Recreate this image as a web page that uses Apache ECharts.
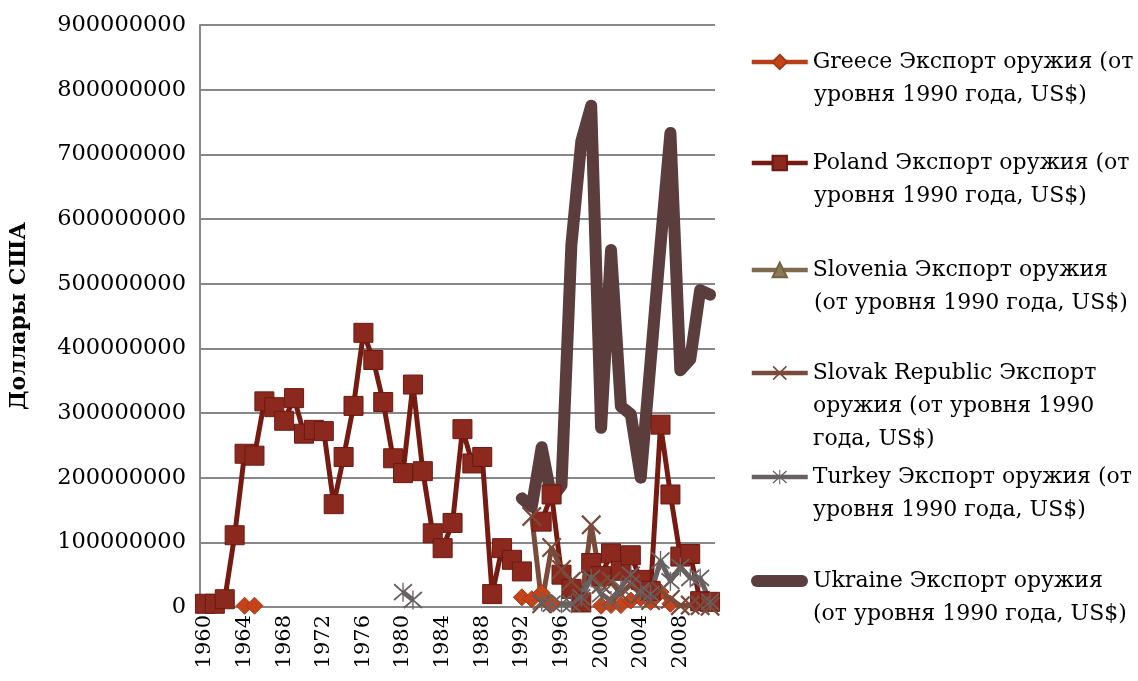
<!DOCTYPE html>
<html>
<head>
<meta charset="utf-8">
<script src="https://cdn.jsdelivr.net/npm/echarts@6/dist/echarts.min.js"></script>
<style>
  html, body { margin: 0; padding: 0; background: #fff; }
  #chart { width: 1138px; height: 681px; }
</style>
</head>
<body>
<div id="chart"></div>
<script>
// годы
var years = [
  1960, 1961, 1962, 1963, 1964, 1965, 1966, 1967, 1968, 1969,
  1970, 1971, 1972, 1973, 1974, 1975, 1976, 1977, 1978, 1979,
  1980, 1981, 1982, 1983, 1984, 1985, 1986, 1987, 1988, 1989,
  1990, 1991, 1992, 1993, 1994, 1995, 1996, 1997, 1998, 1999,
  2000, 2001, 2002, 2003, 2004, 2005, 2006, 2007, 2008, 2009,
  2010, 2011
];

// значения в млн US$
var greece = [
  null, null, null, null, 2, 2, null, null, null, null,
  null, null, null, null, null, null, null, null, null, null,
  null, null, null, null, null, null, null, null, null, null,
  null, null, 15, 12, 22, 6, null, null, null, null,
  2, 3, 3, 10, 14, 8, 23, 5, null, null,
  null, null
];
var poland = [
  5, 5, 12, 111, 237, 234, 318, 309, 288, 323,
  268, 274, 272, 159, 232, 311, 424, 382, 317, 230,
  207, 344, 210, 114, 91, 130, 275, 222, 232, 20,
  91, 73, 55, null, 132, 174, 50, 28, 7, 68,
  48, 83, 56, 80, 42, 25, 282, 174, 78, 82,
  9, 8
];
// на графике точек Словении не видно
var slovenia = [
  null, null, null, null, null, null, null, null, null, null,
  null, null, null, null, null, null, null, null, null, null,
  null, null, null, null, null, null, null, null, null, null,
  null, null, null, null, null, null, null, null, null, null,
  null, null, null, null, null, null, null, null, null, null,
  null, null
];
var slovak = [
  null, null, null, null, null, null, null, null, null, null,
  null, null, null, null, null, null, null, null, null, null,
  null, null, null, null, null, null, null, null, null, null,
  null, null, null, 140, 5, 92, 58, 40, 8, 127,
  35, 40, 20, 35, 20, 10, 25, 12, 2, 3,
  2, 1
];
var turkey = [
  null, null, null, null, null, null, null, null, null, null,
  null, null, null, null, null, null, null, null, null, null,
  23, 11, null, null, null, null, null, null, null, null,
  null, null, null, null, 8, 5, 5, 5, 15, 45,
  20, 10, 30, 50, 25, 20, 72, 40, 62, 45,
  45, 8
];
var ukraine = [
  null, null, null, null, null, null, null, null, null, null,
  null, null, null, null, null, null, null, null, null, null,
  null, null, null, null, null, null, null, null, null, null,
  null, null, 168, 155, 247, 168, 188, 560, 720, 775,
  277, 552, 310, 298, 200, 380, 560, 733, 366, 383,
  490, 483
];

var names = [
  'Greece Экспорт оружия (от уровня 1990 года, US$)',
  'Poland Экспорт оружия (от уровня 1990 года, US$)',
  'Slovenia Экспорт оружия (от уровня 1990 года, US$)',
  'Slovak Republic Экспорт оружия (от уровня 1990 года, US$)',
  'Turkey Экспорт оружия (от уровня 1990 года, US$)',
  'Ukraine Экспорт оружия (от уровня 1990 года, US$)'
];
// как подпись разбита на строки в легенде
var legendLines = [
  ['Greece Экспорт оружия (от', 'уровня 1990 года, US$)'],
  ['Poland Экспорт оружия (от', 'уровня 1990 года, US$)'],
  ['Slovenia Экспорт оружия', '(от уровня 1990 года, US$)'],
  ['Slovak Republic Экспорт', 'оружия (от уровня 1990', 'года, US$)'],
  ['Turkey Экспорт оружия (от', 'уровня 1990 года, US$)'],
  ['Ukraine Экспорт оружия', '(от уровня 1990 года, US$)']
];
var legendTops = [62, 163, 270, 373, 477, 581];

var FONT = 'DejaVu Serif';
var LH = 33;

function toUsd(arr) {
  return arr.map(function (v) { return v == null ? null : v * 1000000; });
}

var symX = 'path://M0,1.6L1.6,0L10,8.4L18.4,0L20,1.6L11.6,10L20,18.4L18.4,20L10,11.6L1.6,20L0,18.4L8.4,10Z';
var symStar = 'path://M0,2.4L1.2,0.8L10,8.9L18.8,0.8L20,2.4L11.4,10L20,17.6L18.8,19.2L10,11.1L1.2,19.2L0,17.6L8.6,10Z' +
  'M9.3,0L10.7,0L10.7,20L9.3,20Z';
var capsule = 'path://M6,0L51,0A6,6,0,0,1,51,12L6,12A6,6,0,0,1,6,0Z';

var chartDom = document.getElementById('chart');
var myChart = echarts.init(chartDom);

var legendText = {
  fontFamily: FONT,
  fontSize: 22,
  lineHeight: LH,
  color: '#000'
};

// легенда: первая строка с иконкой, остальные строки отдельной легендой без иконки
var legends = [];
names.forEach(function (n, i) {
  var lines = legendLines[i];
  var isUkr = i === 5;
  var first = {
    data: [n],
    left: isUkr ? 751 : 749.5,
    top: legendTops[i] - LH / 2,
    padding: 0,
    itemWidth: isUkr ? 57 : 56,
    itemHeight: isUkr ? 12 : 18,
    selectedMode: false,
    formatter: function () { return lines[0]; },
    lineStyle: { width: 4.5 },
    textStyle: legendText
  };
  if (isUkr) {
    first.icon = capsule;
  }
  legends.push(first);
  legends.push({
    data: [n],
    left: 752,
    top: legendTops[i] + LH - LH / 2,
    padding: 0,
    itemWidth: 56,
    itemHeight: 18,
    selectedMode: false,
    icon: 'rect',
    formatter: function () { return lines.slice(1).join('\n'); },
    itemStyle: { opacity: 0 },
    lineStyle: { opacity: 0 },
    textStyle: legendText
  });
});

var option = {
  backgroundColor: '#fff',
  animation: false,
  grid: { left: 200, right: 423, top: 25, bottom: 74 },
  legend: legends,
  xAxis: {
    type: 'category',
    data: years,
    boundaryGap: true,
    axisLine: { lineStyle: { color: '#878787', width: 2 } },
    axisTick: { show: false },
    axisLabel: {
      interval: 3,
      rotate: 90,
      margin: 8,
      color: '#000',
      fontFamily: FONT,
      fontSize: 21
    }
  },
  yAxis: {
    type: 'value',
    min: 0,
    max: 900000000,
    interval: 100000000,
    name: 'Доллары США',
    nameLocation: 'middle',
    nameGap: 170,
    nameTextStyle: { fontFamily: FONT, fontSize: 22, fontWeight: 'bold', color: '#000' },
    axisLine: { show: true, lineStyle: { color: '#878787', width: 2 } },
    axisTick: { show: false },
    splitLine: { lineStyle: { color: '#878787', width: 2 } },
    axisLabel: {
      margin: 14,
      color: '#000',
      fontFamily: FONT,
      fontSize: 22.5,
      formatter: function (v) { return String(v); }
    }
  },
  series: [
    {
      name: names[0],
      type: 'line',
      data: toUsd(greece),
      showAllSymbol: true,
      symbol: 'diamond',
      symbolSize: 17,
      itemStyle: { color: '#C4431A', borderColor: '#A53812', borderWidth: 1 },
      lineStyle: { color: '#B83E1A', width: 5 }
    },
    {
      name: names[1],
      type: 'line',
      data: toUsd(poland),
      showAllSymbol: true,
      symbol: 'rect',
      symbolSize: 19,
      itemStyle: { color: '#8B291E', borderColor: '#6E1911', borderWidth: 1 },
      lineStyle: { color: '#761B11', width: 5 }
    },
    {
      name: names[2],
      type: 'line',
      data: toUsd(slovenia),
      showAllSymbol: true,
      symbol: 'triangle',
      symbolSize: 17,
      itemStyle: { color: '#8C7956', borderColor: '#73623F', borderWidth: 1 },
      lineStyle: { color: '#7E6B4B', width: 5 }
    },
    {
      name: names[3],
      type: 'line',
      data: toUsd(slovak),
      showAllSymbol: true,
      symbol: symX,
      symbolSize: 20,
      itemStyle: { color: '#7A4B3A' },
      lineStyle: { color: '#7A4B3A', width: 5 }
    },
    {
      name: names[4],
      type: 'line',
      data: toUsd(turkey),
      showAllSymbol: true,
      symbol: symStar,
      symbolSize: 19,
      itemStyle: { color: '#686061' },
      lineStyle: { color: '#686061', width: 5 }
    },
    {
      name: names[5],
      type: 'line',
      data: toUsd(ukraine),
      showSymbol: false,
      symbol: 'none',
      itemStyle: { color: '#5C3D3E' },
      lineStyle: { color: '#5C3D3E', width: 12, cap: 'round', join: 'round' }
    }
  ]
};

option && myChart.setOption(option);
</script>
</body>
</html>
